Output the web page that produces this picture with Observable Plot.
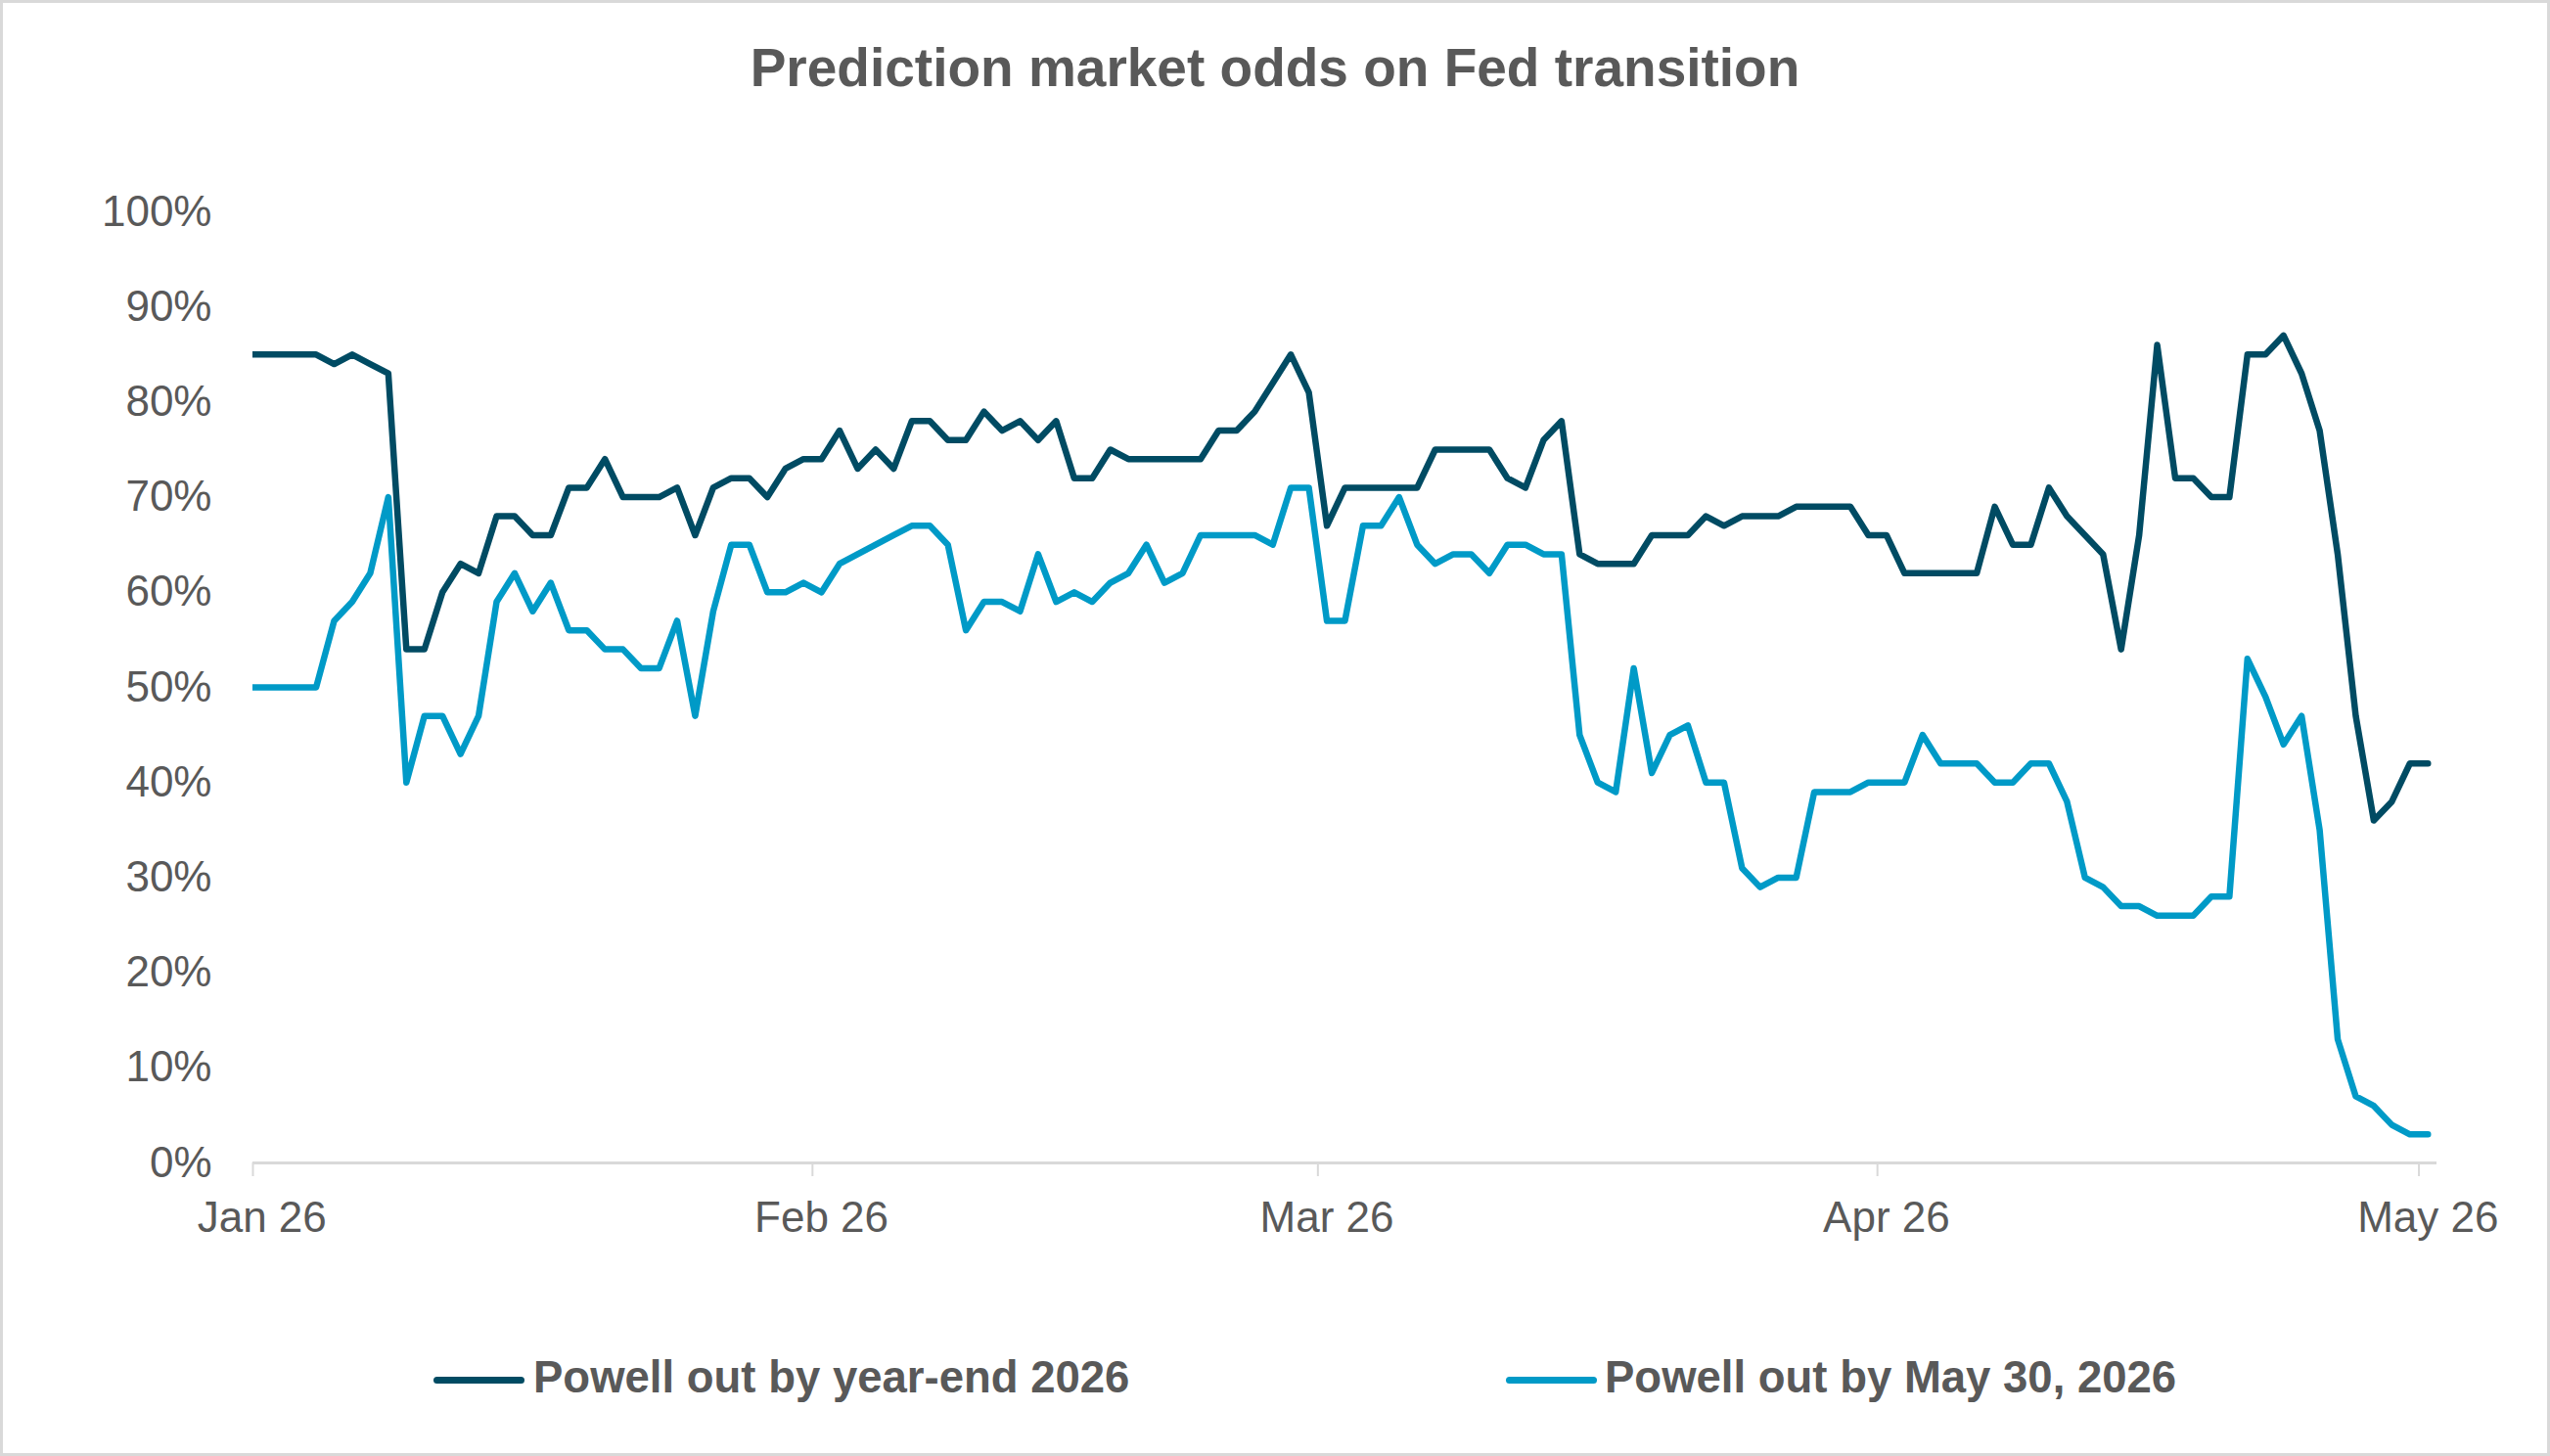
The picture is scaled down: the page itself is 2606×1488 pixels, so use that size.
<!DOCTYPE html>
<html><head><meta charset="utf-8">
<script src="https://cdn.jsdelivr.net/npm/d3@7"></script>
<script src="https://cdn.jsdelivr.net/npm/@observablehq/plot@0.6"></script>
<style>
html,body{margin:0;padding:0;background:#fff;}
#chart{position:relative;width:2606px;height:1488px;background:#fff;overflow:hidden;font-family:"Liberation Sans",Arial,sans-serif;color:#595959;}
#frame{position:absolute;left:0;top:0;right:0;bottom:0;border:3px solid #d9d9d9;pointer-events:none;}
#title{position:absolute;left:0;width:2606px;top:42px;text-align:center;font-size:55px;line-height:55px;font-weight:bold;color:#595959;white-space:nowrap;}
#plot{position:absolute;left:0;top:150px;}
.lg-sw{position:absolute;height:7px;border-radius:4px;}
.lg-tx{position:absolute;font-size:45.5px;line-height:45.5px;font-weight:bold;color:#595959;white-space:nowrap;}
</style></head><body>
<div id="chart">
  <div id="title">Prediction market odds on Fed transition</div>
  <div id="plot"></div>
  <div id="legend"></div>
  <div id="frame"></div>
</div>
<script>
// Series names and colours
const seriesNames = ["Powell out by year-end 2026", "Powell out by May 30, 2026"];
const seriesColors = ["#004b63", "#009ac7"];

// Daily observations (plotted at midday), Dec 31 2025 through May 1 2026
const firstDay = new Date(Date.UTC(2025, 11, 31));
const endDay = new Date(Date.UTC(2026, 4, 2));

// Percent values (first entry = Dec 31)
const yearEnd = [85,
  85,85,85,85,84,85,84,83,54,54,60,63,62,68,68,66,66,71,71,74,70,70,70,71,66,71,72,72,70,73,74,74,
  77,73,75,73,78,78,76,76,79,77,78,76,78,72,72,75,74,74,74,74,74,77,77,79,82,85,81,
  67,71,71,71,71,71,75,75,75,75,72,71,76,78,64,63,63,63,66,66,66,68,67,68,68,68,69,69,69,69,66,66,
  62,62,62,62,62,69,65,65,71,68,66,64,54,66,86,72,72,70,70,85,85,87,83,77,64,47,36,38,42,42];
const may30 = [50,
  50,50,50,50,57,59,62,70,40,47,47,43,47,59,62,58,61,56,56,54,54,52,52,57,47,58,65,65,60,60,61,60,
  63,64,65,66,67,67,65,56,59,59,58,64,59,60,59,61,62,65,61,62,66,66,66,66,65,71,71,
  57,57,67,67,70,65,63,64,64,62,65,65,64,64,45,40,39,52,41,45,46,40,40,31,29,30,30,39,39,39,40,40,
  40,45,42,42,42,40,40,42,42,38,30,29,27,27,26,26,26,28,28,53,49,44,47,35,13,7,6,4,3,3];

// Axis ticks
const monthTicks = [new Date(Date.UTC(2026,0,1)), new Date(Date.UTC(2026,1,1)), new Date(Date.UTC(2026,2,1)), new Date(Date.UTC(2026,3,1)), new Date(Date.UTC(2026,4,1))];
const monthLabels = ["Jan 26", "Feb 26", "Mar 26", "Apr 26", "May 26"];
const yTicks = [0,0.1,0.2,0.3,0.4,0.5,0.6,0.7,0.8,0.9,1.0];
const xDomain = [new Date(Date.UTC(2026,0,1)), new Date(Date.UTC(2026,4,2))];

const dates = d3.utcDay.range(firstDay, endDay).map(d => d3.utcHour.offset(d, 12));
const rows = [];
[yearEnd, may30].forEach((vals, si) => {
  vals.forEach((v, i) => rows.push({date: dates[i], value: v / 100, series: seriesNames[si]}));
});

const labelByTime = new Map(monthTicks.map((d, i) => [+d3.utcHour.offset(d, 12), monthLabels[i]]));
const labelTicks = monthTicks.map(d => d3.utcHour.offset(d, 12));

const chart = Plot.plot({
  width: 2606,
  height: 1150,
  marginTop: 66,
  marginBottom: 112,
  marginLeft: 258,
  marginRight: 116,
  style: {fontFamily: '"Liberation Sans", Arial, sans-serif', fontSize: "44px", color: "#595959", background: "transparent", overflow: "visible"},
  x: {type: "utc", domain: xDomain},
  y: {domain: [0, 1]},
  color: {domain: seriesNames, range: seriesColors},
  marks: [
    Plot.axisY({ticks: yTicks, tickSize: 0, tickPadding: 42, tickFormat: d3.format(".0%"), label: null, fill: "#595959"}),
    Plot.axisX({ticks: monthTicks, tickSize: 14, stroke: "#d9d9d9", strokeWidth: 2, tickFormat: () => "", label: null}),
    Plot.axisX({ticks: labelTicks, tickSize: 0, tickPadding: 39, tickFormat: d => labelByTime.get(+d), label: null, fill: "#595959"}),
    Plot.ruleY([0], {stroke: "#d9d9d9", strokeWidth: 3}),
    Plot.lineY(rows, {x: "date", y: "value", z: "series", stroke: "series", strokeWidth: 6.5, strokeLinejoin: "round", clip: true})
  ]
});
document.getElementById("plot").appendChild(chart);

// Legend
const legend = document.getElementById("legend");
const swatchX = [443, 1539];
const textX = [545, 1640];
seriesNames.forEach((name, i) => {
  const sw = document.createElement("div");
  sw.className = "lg-sw";
  sw.style.left = swatchX[i] + "px";
  sw.style.width = "93px";
  sw.style.top = "1407px";
  sw.style.background = seriesColors[i];
  legend.appendChild(sw);
  const tx = document.createElement("div");
  tx.className = "lg-tx";
  tx.style.left = textX[i] + "px";
  tx.style.top = "1385px";
  tx.textContent = name;
  legend.appendChild(tx);
});
</script>
</body></html>
